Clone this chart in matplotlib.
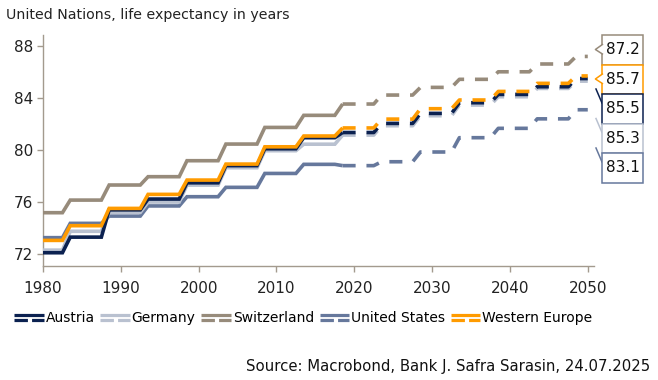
import numpy as np
import matplotlib
matplotlib.use("Agg")
import matplotlib.pyplot as plt
from matplotlib.lines import Line2D
from matplotlib.patches import Rectangle, Polygon
from matplotlib.legend_handler import HandlerBase

# UN life expectancy, values per period
period_start = [1980.0, 1983.5, 1988.5, 1993.5, 1998.5, 2003.5, 2008.5, 2013.5,
                2018.5, 2023.5, 2028.5, 2033.5, 2038.5, 2043.5, 2048.5]
last_year = 2050.0
forecast_from = 2018.5

series_names = ["Austria", "Germany", "Switzerland", "United States", "Western Europe"]
austria = [72.1, 73.3, 75.4, 76.23, 77.48, 78.8, 80.1, 80.95, 81.35, 82.05, 82.82, 83.64, 84.28, 84.87, 85.5]
germany = [72.3, 73.75, 75.2, 76.0, 77.3, 78.64, 79.95, 80.45, 81.15, 81.87, 82.64, 83.46, 84.1, 84.74, 85.3]
switzerland = [75.18, 76.15, 77.31, 77.95, 79.18, 80.46, 81.74, 82.67, 83.54, 84.23, 84.82, 85.44, 86.02, 86.62, 87.2]
united_states = [73.26, 74.36, 74.92, 75.7, 76.41, 77.13, 78.2, 78.9, 78.8, 79.1, 79.85, 80.95, 81.67, 82.4, 83.1]
western_europe = [73.05, 74.18, 75.51, 76.59, 77.69, 78.92, 80.25, 81.08, 81.7, 82.38, 83.18, 83.85, 84.51, 85.13, 85.7]

colors = {
    "Austria": "#0b2150",
    "Germany": "#b9c1d0",
    "Switzerland": "#978b7b",
    "United States": "#66789c",
    "Western Europe": "#ff9b00",
}
values = {
    "Austria": austria,
    "Germany": germany,
    "Switzerland": switzerland,
    "United States": united_states,
    "Western Europe": western_europe,
}
# order of the boxes on the right, top to bottom
label_order = ["Switzerland", "Western Europe", "Austria", "Germany", "United States"]

W, H = 658, 380
fig = plt.figure(figsize=(W / 100, H / 100), dpi=100)
ax = fig.add_axes([43 / W, 1 - 266 / H, 551 / W, 231 / H])

axis_col = "#a39a8e"
lw = 2.6


def step_path(vals):
    # each period value held from its start to the start of the next period minus one year
    xs, ys = [], []
    for i, v in enumerate(vals):
        end = period_start[i + 1] - 1 if i + 1 < len(vals) else last_year
        xs += [period_start[i], end]
        ys += [v, v]
    return np.array(xs), np.array(ys)


draw_order = ["United States", "Switzerland", "Germany", "Austria", "Western Europe"]
for z, name in enumerate(draw_order):
    xs, ys = step_path(values[name])
    hist = xs <= forecast_from
    fut = xs >= forecast_from
    ax.plot(xs[hist], ys[hist], color=colors[name], lw=lw, zorder=3 + z,
            solid_joinstyle="miter", solid_capstyle="butt")
    ax.plot(xs[fut], ys[fut], color=colors[name], lw=lw, zorder=3 + z,
            linestyle=(0, (3.6, 3.0)), dash_capstyle="butt")

ax.set_xlim(1980, 2050.8)
ax.set_ylim(71.08, 88.85)
ax.set_xticks(range(1980, 2051, 10))
ax.set_yticks([72, 76, 80, 84, 88])
for s in ["top", "right"]:
    ax.spines[s].set_visible(False)
for s in ["left", "bottom"]:
    ax.spines[s].set_color(axis_col)
    ax.spines[s].set_linewidth(1.0)
ax.tick_params(axis="both", colors=axis_col, labelcolor="#222222", labelsize=11,
               length=4, width=1.0)
ax.tick_params(axis="x", pad=7)
ax.tick_params(axis="y", pad=3)

fig.text(6 / W, 1 - 15 / H, "United Nations, life expectancy in years",
         fontsize=10.2, color="#222222", va="center", ha="left")
fig.text(650 / W, 1 - 367 / H, "Source: Macrobond, Bank J. Safra Sarasin, 24.07.2025",
         fontsize=10.7, color="#111111", va="center", ha="right")


# legend with solid-over-dashed handles
class SolidDashHandler(HandlerBase):
    def create_artists(self, legend, orig_handle, xdescent, ydescent, width, height,
                       fontsize, trans):
        c = orig_handle.get_color()
        x0, x1 = -xdescent, width - xdescent
        top = Line2D([x0, x1], [0.72 * height - ydescent] * 2, color=c, lw=2.3,
                     solid_capstyle="butt")
        bot = Line2D([x0, x1], [0.22 * height - ydescent] * 2, color=c, lw=2.3,
                     linestyle=(0, (4.2, 1.3)), dash_capstyle="butt")
        top.set_transform(trans)
        bot.set_transform(trans)
        return [top, bot]


handles = [Line2D([], [], color=colors[n]) for n in series_names]
fig.legend(handles, series_names, handler_map={Line2D: SolidDashHandler()},
           loc="center left", bbox_to_anchor=(14 / W, 1 - 318 / H), ncol=5,
           frameon=False, fontsize=10, handlelength=2.15, handleheight=0.7,
           handletextpad=0.12, columnspacing=0.4, borderpad=0, borderaxespad=0)

# end-value boxes on the right
box_x0, box_w, box_h = 602, 41, 29.5
box_top = 35
for i, name in enumerate(label_order):
    top_px = box_top + i * box_h
    rect = Rectangle((box_x0 / W, 1 - (top_px + box_h) / H), box_w / W, box_h / H,
                     transform=fig.transFigure, facecolor="white",
                     edgecolor=colors[name], lw=1.1, zorder=5)
    fig.add_artist(rect)
    fig.text((box_x0 + box_w / 2) / W, 1 - (top_px + box_h / 2) / H,
             f"{values[name][-1]:.1f}", fontsize=11, color="#111111",
             ha="center", va="center", zorder=6)
    cy = top_px + 14
    if i < 2:
        # small notch pointing back to the line end
        pts = [(603, cy - 4.5), (596, cy + 0.5), (603, cy + 5)]
        fig.add_artist(Polygon([(p[0] / W, 1 - p[1] / H) for p in pts], closed=True,
                               transform=fig.transFigure, facecolor="white",
                               edgecolor="none", zorder=6))
        fig.add_artist(Line2D([(p[0] - 0.6) / W for p in pts], [1 - p[1] / H for p in pts],
                              transform=fig.transFigure, color=colors[name], lw=1.1,
                              zorder=7))
    else:
        fig.add_artist(Line2D([596 / W, 602 / W], [1 - (top_px - 5) / H, 1 - (top_px + 9) / H],
                              transform=fig.transFigure, color=colors[name], lw=1.1,
                              zorder=4))

fig.savefig("out.png", dpi=100)
